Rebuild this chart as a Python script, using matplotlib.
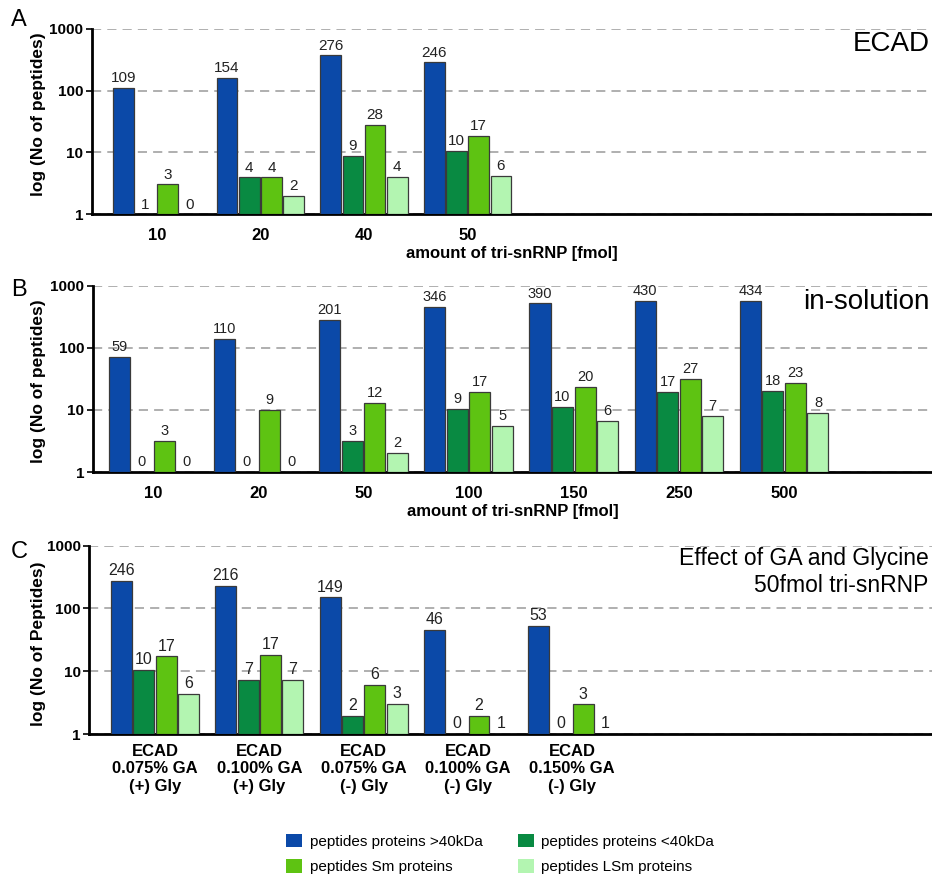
import matplotlib
matplotlib.use("Agg")
import matplotlib.pyplot as plt
from matplotlib.patches import Patch
import numpy as np

plt.rcParams['font.family'] = ['Liberation Sans', 'DejaVu Sans']

# colours of the four peptide classes
C_GT40 = "#0b49a8"
C_LT40 = "#098a42"
C_SM = "#5ec312"
C_LSM = "#b3f5b1"
EDGE = "#3a3a3a"

series_names = ["peptides proteins >40kDa", "peptides proteins <40kDa",
                "peptides Sm proteins", "peptides LSm proteins"]

# --- panel A: ECAD, amount of tri-snRNP
a_cats = ["10", "20", "40", "50"]
a_gt40_lbl = [109, 154, 276, 246]
a_lt40_lbl = [1, 4, 9, 10]
a_sm_lbl = [3, 4, 28, 17]
a_lsm_lbl = [0, 2, 4, 6]
# bar heights as drawn in the figure
a_gt40_bar = [112, 160, 370, 286]
a_lt40_bar = [1, 3.95, 8.9, 10.5]
a_sm_bar = [3.05, 3.95, 27.9, 18.3]
a_lsm_bar = [1, 2.0, 4.0, 4.2]

# --- panel B: in-solution
b_cats = ["10", "20", "50", "100", "150", "250", "500"]
b_gt40_lbl = [59, 110, 201, 346, 390, 430, 434]
b_lt40_lbl = [0, 0, 3, 9, 10, 17, 18]
b_sm_lbl = [3, 9, 12, 17, 20, 27, 23]
b_lsm_lbl = [0, 0, 2, 5, 6, 7, 8]
b_gt40_bar = [71, 139, 284, 452, 518, 573, 573]
b_lt40_bar = [1, 1, 3.2, 10.3, 11.2, 19.5, 20.5]
b_sm_bar = [3.2, 10, 12.8, 19.5, 23.2, 32, 27]
b_lsm_bar = [1, 1, 2.05, 5.5, 6.65, 7.9, 8.85]

# --- panel C: effect of GA and glycine
c_cats = ["ECAD\n0.075% GA\n(+) Gly", "ECAD\n0.100% GA\n(+) Gly",
          "ECAD\n0.075% GA\n(-) Gly", "ECAD\n0.100% GA\n(-) Gly",
          "ECAD\n0.150% GA\n(-) Gly"]
c_gt40_lbl = [246, 216, 149, 46, 53]
c_lt40_lbl = [10, 7, 2, 0, 0]
c_sm_lbl = [17, 17, 6, 2, 3]
c_lsm_lbl = [6, 7, 3, 1, 1]
c_gt40_bar = [275, 232, 150, 45.5, 52.5]
c_lt40_bar = [10.4, 7.2, 1.96, 1, 1]
c_sm_bar = [17.3, 18, 6.0, 1.96, 2.97]
c_lsm_bar = [4.3, 7.2, 3.0, 1, 1]

W, H = 932, 875
fig = plt.figure(figsize=(W / 100, H / 100), dpi=100)


def px_axes(left, top, bottom):
    return fig.add_axes([left / W, (H - bottom) / H, 1 - left / W, (bottom - top) / H])


def draw_panel(ax, cats, bars, labels, xlim, lbl_size, tick_size, tick_pad):
    colors = [C_GT40, C_LT40, C_SM, C_LSM]
    x = np.arange(len(cats))
    step = 0.214
    for k in range(4):
        xs = x + (k - 1.5) * step
        hs = np.array(bars[k], dtype=float)
        ax.bar(xs, hs - 1, width=0.2, bottom=1, color=colors[k],
               edgecolor=EDGE, linewidth=0.9, zorder=3)
        for xi, h, lb in zip(xs, hs, labels[k]):
            ax.annotate(str(lb), (xi, h), xytext=(0, 2), textcoords="offset points",
                        ha="center", va="bottom", fontsize=lbl_size, color="#222222")
    ax.set_yscale("log")
    ax.set_ylim(1, 1000)
    ax.set_xlim(*xlim)
    ax.set_yticks([1, 10, 100, 1000])
    ax.set_yticklabels(["1", "10", "100", "1000"], fontweight="bold", fontsize=11)
    ax.yaxis.set_minor_locator(matplotlib.ticker.NullLocator())
    ax.set_xticks(x)
    ax.set_xticklabels(cats, fontweight="bold", fontsize=tick_size, linespacing=1.2)
    ax.tick_params(axis="x", length=0, pad=tick_pad)
    ax.tick_params(axis="y", length=4, width=1.2, pad=2)
    for s in ("top", "right"):
        ax.spines[s].set_visible(False)
    for s in ("left", "bottom"):
        ax.spines[s].set_linewidth(2)
    ax.yaxis.grid(True, linestyle=(0, (6, 4)), color="#9a9a9a", linewidth=1.1, zorder=0)
    ax.set_axisbelow(True)


# A
axA = px_axes(91.7, 28.7, 214.3)
draw_panel(axA, a_cats, [a_gt40_bar, a_lt40_bar, a_sm_bar, a_lsm_bar],
           [a_gt40_lbl, a_lt40_lbl, a_sm_lbl, a_lsm_lbl],
           (-0.627, 7.48), 11, 12, 10)
axA.set_xlabel("amount of tri-snRNP [fmol]", fontweight="bold", fontsize=12, labelpad=2)
axA.set_ylabel("log (No of peptides)", fontweight="bold", fontsize=12.5)
axA.yaxis.set_label_coords((46 - 91.7) / (W - 91.7), 0.54)
axA.text(0.997, 0.92, "ECAD", transform=axA.transAxes, ha="right", va="center", fontsize=20)

# B
axB = px_axes(92.7, 285.7, 472)
draw_panel(axB, b_cats, [b_gt40_bar, b_lt40_bar, b_sm_bar, b_lsm_bar],
           [b_gt40_lbl, b_lt40_lbl, b_sm_lbl, b_lsm_lbl],
           (-0.573, 7.405), 10.5, 12, 10)
axB.set_xlabel("amount of tri-snRNP [fmol]", fontweight="bold", fontsize=12, labelpad=2)
axB.set_ylabel("log (No of peptides)", fontweight="bold", fontsize=12.5)
axB.yaxis.set_label_coords((46 - 92.7) / (W - 92.7), 0.49)
axB.text(0.997, 0.915, "in-solution", transform=axB.transAxes, ha="right", va="center",
         fontsize=20)

# C
axC = px_axes(89.3, 545.7, 734)
draw_panel(axC, c_cats, [c_gt40_bar, c_lt40_bar, c_sm_bar, c_lsm_bar],
           [c_gt40_lbl, c_lt40_lbl, c_sm_lbl, c_lsm_lbl],
           (-0.63, 7.45), 11.5, 12, 7)
axC.set_ylabel("log (No of Peptides)", fontweight="bold", fontsize=12.5)
axC.yaxis.set_label_coords((46 - 89.3) / (W - 89.3), 0.48)
axC.text(0.996, 0.86, "Effect of GA and Glycine\n50fmol tri-snRNP", transform=axC.transAxes,
         ha="right", va="center", fontsize=16.5, linespacing=1.25)

# panel letters
for letter, ypx in (("A", 20), ("B", 290), ("C", 552)):
    fig.text(19 / W, 1 - ypx / H, letter, ha="center", va="center", fontsize=17)

handles = [Patch(facecolor=c, edgecolor="none") for c in (C_GT40, C_LT40, C_SM, C_LSM)]
order = [0, 2, 1, 3]
fig.legend([handles[i] for i in order], [series_names[i] for i in order],
           ncol=2, loc="center", bbox_to_anchor=(500 / W, 21 / H), frameon=False,
           fontsize=11, handlelength=1.05, handleheight=1.0, handletextpad=0.5,
           columnspacing=2.3, labelspacing=0.7)

fig.savefig("out.png", dpi=100)
